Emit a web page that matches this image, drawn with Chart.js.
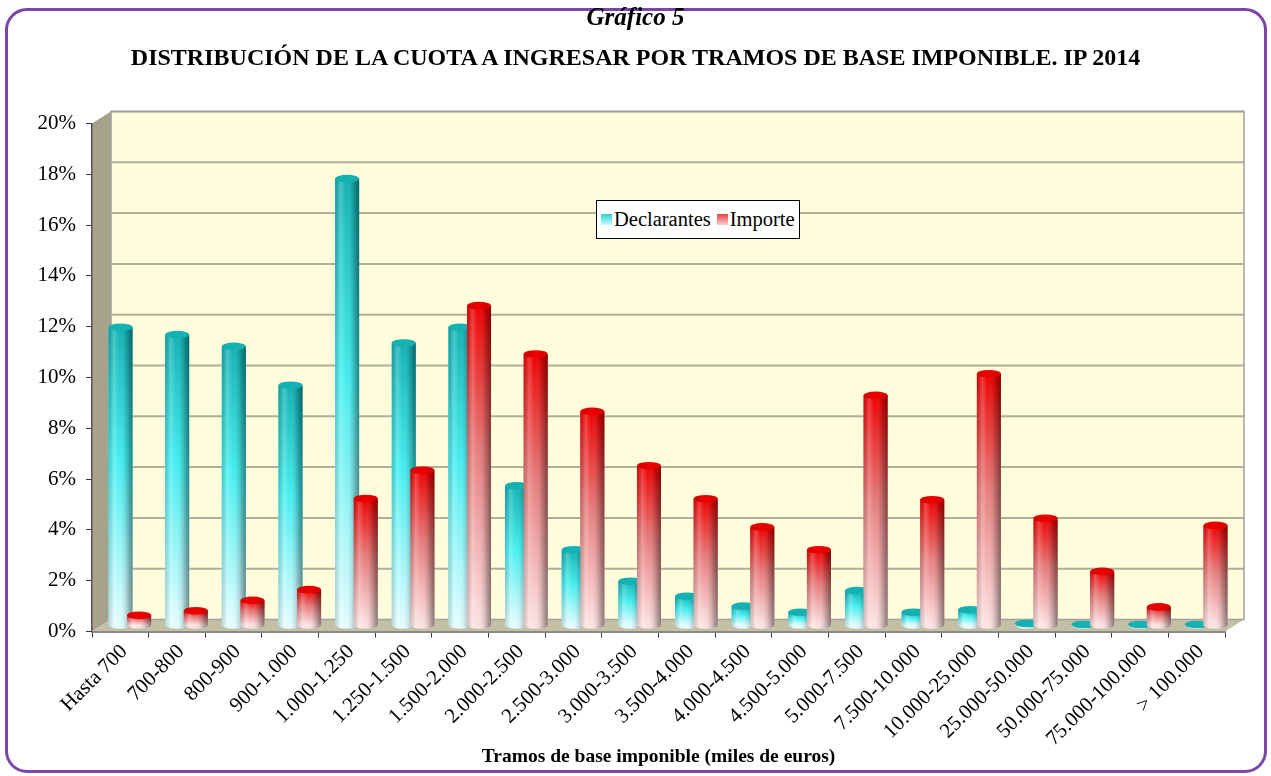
<!DOCTYPE html>
<html>
<head>
<meta charset="utf-8">
<script src="https://cdn.jsdelivr.net/npm/chart.js@4.4.1/dist/chart.umd.min.js"></script>
<style>
    body { margin: 0; background: #fff; }
    #page { position: relative; width: 1271px; height: 776px; overflow: hidden; font-family: "Liberation Serif", "Times New Roman", serif; }
    #frame { position: absolute; left: 5px; top: 8px; width: 1262px; height: 765px; border: 3px solid #7b45aa; border-radius: 22px; box-sizing: border-box; }
    #title { position: absolute; left: 0; top: 4px; width: 1271px; text-align: center; font-weight: bold; color: #000; }
    #title .t1 { font-style: italic; font-size: 25px; line-height: 26px; }
    #title .t2 { font-size: 24px; line-height: 28px; margin-top: 13px; }
    #chart { position: absolute; left: 0; top: 0; }
    #legend { position: absolute; left: 596px; top: 200px; width: 204px; height: 39px; border: 1px solid #000; background: #fff; box-sizing: border-box; display: flex; align-items: center; padding-left: 4px; font-size: 20.5px; color: #000; white-space: nowrap; }
    #legend .sw { display: inline-block; width: 11px; height: 11px; margin: 0 2px 0 0; }
</style>
</head>
<body>
<div id="page">
    <canvas id="chart" width="1271" height="776"></canvas>
    <div id="frame"></div>
    <div id="title">
        <div class="t1">Gráfico 5</div>
        <div class="t2">DISTRIBUCIÓN DE LA CUOTA A INGRESAR POR TRAMOS DE BASE IMPONIBLE. IP 2014</div>
    </div>
    <div id="legend"></div>
</div>
<script>
const categories = [
    "Hasta 700", "700-800", "800-900", "900-1.000", "1.000-1.250", "1.250-1.500",
    "1.500-2.000", "2.000-2.500", "2.500-3.000", "3.000-3.500", "3.500-4.000",
    "4.000-4.500", "4.500-5.000", "5.000-7.500", "7.500-10.000", "10.000-25.000",
    "25.000-50.000", "50.000-75.000", "75.000-100.000", "> 100.000"
];
const seriesNames = ["Declarantes", "Importe"];
const declarantes = [11.74, 11.45, 10.99, 9.46, 17.59, 11.12, 11.74, 5.50, 2.98, 1.74, 1.15, 0.76, 0.52, 1.37, 0.52, 0.62, 0.08, 0.02, 0.01, 0.01];
const importe = [0.40, 0.58, 0.99, 1.41, 5.00, 6.11, 12.59, 10.69, 8.43, 6.29, 4.99, 3.88, 2.98, 9.06, 4.95, 9.91, 4.22, 2.13, 0.73, 3.94];
const yMax = 20;
const yStep = 2;
const xTitle = "Tramos de base imponible (miles de euros)";

// cylinder colours
const palettes = [
    { cap: "#17aeb0", top: "#14b2b4", mid: "#45eef0", bottom: "#e2fcff", sq: "linear-gradient(#2fd0d2,#c8fbff)" },
    { cap: "#d40000", top: "#ee0000", mid: "#e77a7a", bottom: "#fde2e2", sq: "linear-gradient(#e84040,#f8d0d0)" }
];

const DEPTH_X = 19, DEPTH_Y = -12;
const BAR_X = 9.5, BAR_Y = -6;

function drawCylinder(ctx, x, top, base, w, pal) {
    const left = x - w / 2;
    const ry = Math.min(4, w * 0.16);
    if (base - top < 0.5) top = base - 0.5;

    const vg = ctx.createLinearGradient(0, top, 0, base);
    vg.addColorStop(0, pal.top);
    vg.addColorStop(0.45, pal.mid);
    vg.addColorStop(1, pal.bottom);

    ctx.beginPath();
    ctx.ellipse(x, base, w / 2, ry, 0, 0, Math.PI);
    ctx.lineTo(left, top);
    ctx.lineTo(left + w, top);
    ctx.closePath();
    ctx.fillStyle = vg;
    ctx.fill();

    const hg = ctx.createLinearGradient(left, 0, left + w, 0);
    hg.addColorStop(0, "rgba(0,0,0,0.14)");
    hg.addColorStop(0.22, "rgba(255,255,255,0.22)");
    hg.addColorStop(0.45, "rgba(255,255,255,0)");
    hg.addColorStop(0.75, "rgba(0,0,0,0.16)");
    hg.addColorStop(1, "rgba(0,0,0,0.45)");
    ctx.fillStyle = hg;
    ctx.fill();

    const cg = ctx.createLinearGradient(left, 0, left + w, 0);
    cg.addColorStop(0, pal.cap);
    cg.addColorStop(0.5, pal.top);
    cg.addColorStop(1, pal.cap);
    ctx.beginPath();
    ctx.ellipse(x, top, w / 2, ry, 0, 0, Math.PI * 2);
    ctx.fillStyle = cg;
    ctx.fill();
}

const wallPlugin = {
    id: "wall3d",
    beforeDraw(chart) {
        const { ctx, chartArea: a, scales } = chart;
        const y = scales.y;
        const w = a.right - a.left;
        ctx.save();
        // back wall
        ctx.fillStyle = "#fffddc";
        ctx.fillRect(a.left + DEPTH_X, a.top + DEPTH_Y, w, a.bottom - a.top);
        // side wall
        ctx.beginPath();
        ctx.moveTo(a.left, a.top);
        ctx.lineTo(a.left + DEPTH_X, a.top + DEPTH_Y);
        ctx.lineTo(a.left + DEPTH_X, a.bottom + DEPTH_Y);
        ctx.lineTo(a.left, a.bottom);
        ctx.closePath();
        ctx.fillStyle = "#a6a28c";
        ctx.fill();
        // floor
        ctx.beginPath();
        ctx.moveTo(a.left, a.bottom);
        ctx.lineTo(a.left + DEPTH_X, a.bottom + DEPTH_Y);
        ctx.lineTo(a.right + DEPTH_X, a.bottom + DEPTH_Y);
        ctx.lineTo(a.right, a.bottom);
        ctx.closePath();
        ctx.fillStyle = "#c4c0a6";
        ctx.fill();
        // grid on the back wall
        ctx.strokeStyle = "#b1ae9a";
        ctx.lineWidth = 2;
        y.ticks.forEach(t => {
            if (t.value === 0) return;
            const py = y.getPixelForValue(t.value) + DEPTH_Y;
            ctx.beginPath();
            ctx.moveTo(a.left + DEPTH_X, py);
            ctx.lineTo(a.right + DEPTH_X, py);
            ctx.stroke();
        });
        ctx.strokeStyle = "#a0a0a0";
        ctx.lineWidth = 1.5;
        ctx.strokeRect(a.left + DEPTH_X, a.top + DEPTH_Y, w, a.bottom - a.top);
        ctx.restore();
    },
    beforeDatasetsDraw(chart) {
        chart.ctx.save();
        chart.ctx.translate(BAR_X, BAR_Y);
    },
    afterDatasetsDraw(chart) {
        const ctx = chart.ctx;
        const metas = chart.data.datasets.map((d, i) => chart.getDatasetMeta(i));
        categories.forEach((c, idx) => {
            metas.forEach((meta, di) => {
                const el = meta.data[idx];
                if (!el) return;
                const p = el.getProps(["x", "y", "base", "width"], true);
                drawCylinder(ctx, p.x, p.y, p.base, p.width, palettes[di]);
            });
        });
        ctx.restore();
    }
};

const serif = "'Liberation Serif', 'Times New Roman', serif";

const chart = new Chart(document.getElementById("chart"), {
    type: "bar",
    data: {
        labels: categories,
        datasets: [
            { label: seriesNames[0], data: declarantes, backgroundColor: palettes[0].mid, borderWidth: 0 },
            { label: seriesNames[1], data: importe, backgroundColor: palettes[1].mid, borderWidth: 0 }
        ]
    },
    options: {
        responsive: false,
        animation: false,
        devicePixelRatio: 1,
        datasets: { bar: { categoryPercentage: 0.657, barPercentage: 1.29 } },
        layout: { padding: { top: 123.5, right: 46, left: 0, bottom: 0 } },
        scales: {
            x: {
                grid: { drawOnChartArea: false, drawTicks: true, tickLength: 6, color: "#333", offset: true },
                border: { color: "#8a8a8a", width: 2 },
                ticks: {
                    autoSkip: false, minRotation: 45, maxRotation: 45, padding: 2, labelOffset: 4,
                    color: "#000", font: { family: serif, size: 21 }
                },
                title: {
                    display: true, text: xTitle, color: "#000",
                    font: { family: serif, size: 19.5, weight: "bold" },
                    padding: { top: 4, bottom: 7 }
                },
                afterFit(scale) { scale.height = 144.5; }
            },
            y: {
                min: 0, max: yMax,
                grid: { drawOnChartArea: false, drawTicks: true, tickLength: 6, color: "#333" },
                border: { color: "#555", width: 1.5 },
                ticks: {
                    stepSize: yStep, padding: 10, color: "#000",
                    font: { family: serif, size: 21 },
                    callback: v => v + "%"
                },
                afterFit(scale) { scale.width = 92; }
            }
        },
        plugins: { legend: { display: false }, tooltip: { enabled: false } }
    },
    plugins: [wallPlugin]
});

// legend box built from the datasets
const legendBox = document.getElementById("legend");
chart.data.datasets.forEach((d, i) => {
    const sw = document.createElement("span");
    sw.className = "sw";
    sw.style.background = palettes[i].sq;
    if (i > 0) sw.style.marginLeft = "6px";
    legendBox.appendChild(sw);
    legendBox.appendChild(document.createTextNode(d.label));
});
</script>
</body>
</html>
